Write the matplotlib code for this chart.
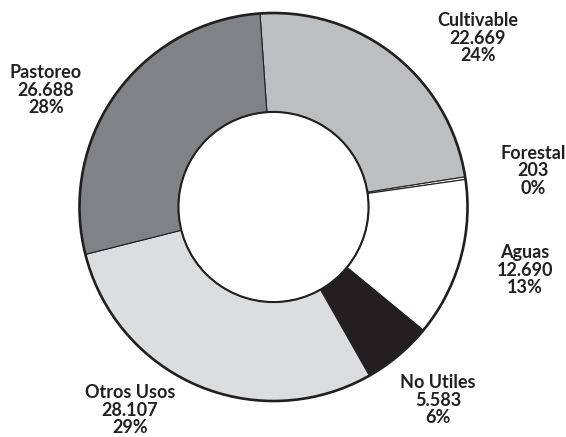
import numpy as np
import matplotlib
matplotlib.use("Agg")
import matplotlib.pyplot as plt
from matplotlib.patches import Circle

# data
categories = ["Cultivable", "Forestal", "Aguas", "No Utiles", "Otros Usos", "Pastoreo"]
values = [22669, 203, 12690, 5583, 28107, 26688]
value_labels = ["22.669", "203", "12.690", "5.583", "28.107", "26.688"]
pct_labels = ["24%", "0%", "13%", "6%", "29%", "28%"]

colors = ["#bcbec0", "#ffffff", "#ffffff", "#231f20", "#dcdddf", "#808285"]
# label centres in pixels (x from left, y from top)
label_pos = [(478, 38), (533, 171), (525, 270), (438, 400), (130, 410), (46, 90)]

W, H = 566, 437
cx, cy = 273.5, 207        # donut centre, px from left/top
r = 194                    # outer radius in px

fig = plt.figure(figsize=(W/100, H/100), dpi=100)
ax = fig.add_axes([0, 0, 1, 1])

wedges, _ = ax.pie(values, colors=colors, startangle=94, counterclock=False,
                   radius=1.0, center=(0, 0),
                   wedgeprops=dict(width=0.51, edgecolor="#231f20", linewidth=0.8))

ax.add_patch(Circle((0, 0), 1.0, fill=False, edgecolor="#231f20", linewidth=1.9, zorder=5))
ax.add_patch(Circle((0, 0), 0.49, fill=False, edgecolor="#231f20", linewidth=1.5, zorder=5))

ax.set_aspect("auto")
ax.set_xlim(-cx/r, (W-cx)/r)
ax.set_ylim(-(H-cy)/r, cy/r)
ax.axis("off")

for name, v, p, (px, py) in zip(categories, value_labels, pct_labels, label_pos):
    fig.text(px/W, 1 - py/H, f"{name}\n{v}\n{p}", ha="center", va="center",
             fontsize=13, family="Lato", weight="bold", color="#231f20",
             linespacing=1.05)

fig.savefig("out.png", dpi=100)
